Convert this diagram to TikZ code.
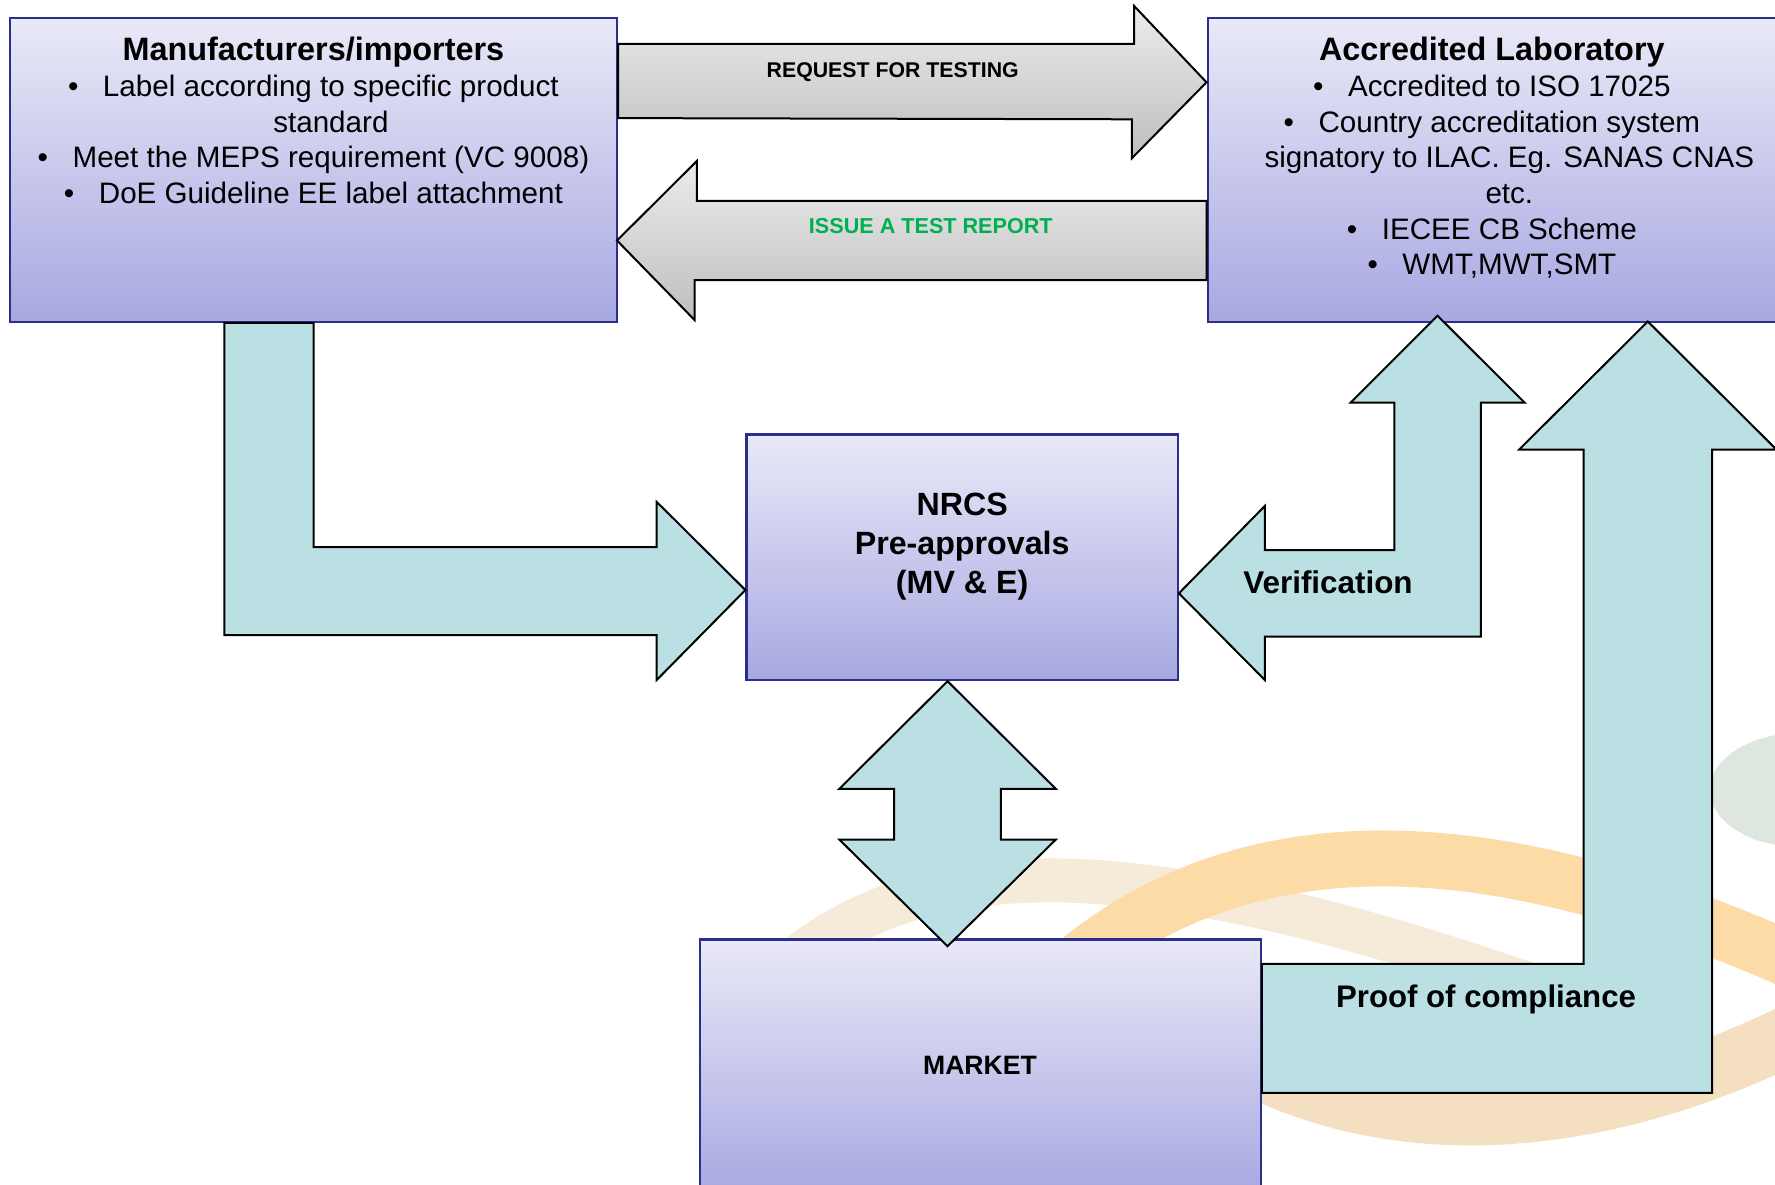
\documentclass[tikz,border=0pt]{standalone}
\usepackage{fontspec}
\setmainfont{Liberation Sans}
\usepackage{xcolor}
\usetikzlibrary{calc, positioning}

\definecolor{boxtop}{RGB}{233,233,248}
\definecolor{boxbot}{RGB}{168,168,226}
\definecolor{boxline}{RGB}{44,46,140}
\definecolor{tealfill}{RGB}{187,224,227}
\definecolor{graytop}{RGB}{236,236,236}
\definecolor{graybot}{RGB}{190,190,190}
\definecolor{reportgreen}{RGB}{0,176,80}
\definecolor{swooshA}{RGB}{253,219,166}
\definecolor{swooshB}{RGB}{246,234,216}
\definecolor{swooshC}{RGB}{244,224,193}
\definecolor{dotgreen}{RGB}{222,230,224}

\newcommand{\bul}{\makebox[35pt][l]{\textbullet}}
\newcommand{\cont}{\hspace*{35pt}}
\newcommand{\head}[1]{{\fontsize{32.4}{35.7}\selectfont\bfseries #1}}

\begin{document}
\begin{tikzpicture}[x=1pt, y=-1pt,
      box/.style = {draw=boxline, line width=2.4pt, top color=boxtop,
                    bottom color=boxbot, inner sep=0pt},
      TA/.style = {draw=black, line width=2pt, fill=tealfill},
      GA/.style = {draw=black, line width=2pt, top color=graytop, bottom color=graybot},
      boxtext/.style = {align=center, inner sep=0pt,
                        font=\fontsize{29.6}{35.7}\selectfont},
      tag/.style = {anchor=base, inner sep=0pt, font=\bfseries} ]

\useasboundingbox (0,0) rectangle (1775,1185);
\clip (0,0) rectangle (1775,1185);

% background swoosh
\draw[swooshB, line width=44pt] (800,955) .. controls (940,850) and (1150,845) .. (1600,1010);
\draw[swooshC, line width=60pt] (1240,1060) .. controls (1400,1145) and (1600,1130) .. (1800,1030);
\draw[swooshA, line width=56pt] (1080,960) .. controls (1230,840) and (1450,810) .. (1790,960);
\fill[dotgreen] (1800,790) ellipse [x radius=90, y radius=57];

% boxes
\node[box, minimum width=607.2pt, minimum height=303.4pt] (manu) at (313.4,170) {};
\node[box, minimum width=568.3pt, minimum height=303.4pt] (lab) at (1491.85,170) {};
\node[box, minimum width=431.1pt, minimum height=245.7pt] (nrcs) at (962.15,557.15) {};
\node[box, minimum width=560.7pt, minimum height=255.7pt] (market) at (980.35,1067.15) {};

\node[boxtext, below=18.5pt of manu.north] (manutxt)
{
  \strut\head{Manufacturers/importers}\\
  \bul Label according to specific product\\
  \cont standard\\
  \bul Meet the MEPS requirement (VC 9008)\\
  \bul DoE Guideline EE label attachment
};
\node[boxtext, below=18.5pt of lab.north] (labtxt)
{
  \strut\head{Accredited Laboratory}\\
  \bul Accredited to ISO 17025\\
  \bul Country accreditation system\\
  \cont signatory to ILAC. Eg. SANAS CNAS\\
  \cont etc.\\
  \bul IECEE CB Scheme\\
  \bul WMT,MWT,SMT
};
\node[boxtext, font=\fontsize{32.2}{39.3}\selectfont\bfseries,
      below=54.3pt of nrcs.north] (nrcstxt) {\strut NRCS\\ Pre-approvals\\ (MV \& E)};

% block arrows
\path[GA] ($(manu.north east)+(0,26.7)$) -- ++(516,0) -- ++(0,-37.7)
      -- ($(lab.west)+(0,-87.7)$) -- ++(-74.7,76) -- ++(0,-39)
      -- ($(manu.north east)+(0,101)$) -- cycle;
\path[GA] ($(manu.east)+(-1.2,70.5)$) -- ++(79.9,-79.5) -- ++(0,40)
      -- ($(lab.west)+(0,31)$) -- ++(0,79) -- ++(-512,0) -- ++(0,40) -- cycle;
\path[TA] ($(manu.south west)+(215.7,0)$) -- ++(89.3,0) -- ++(0,224.3)
      -- ++(343.1,0) -- ++(0,-45.3) -- ($(nrcs.west)+(0,32.85)$)
      -- ++(-88.7,90) -- ++(0,-45) -- ++(-432.4,0) -- cycle;
\path[TA] ($(nrcs.east)+(0,36.15)$) -- ++(85.9,-87.3) -- ++(0,44) -- ++(129.5,0)
      -- ++(0,-147.3) -- ++(-43.8,0) -- ++(87,-87) -- ++(87.2,87) -- ++(-43.9,0)
      -- ++(0,234) -- ++(-216,0) -- ++(0,43.3) -- cycle;
\path[TA] ($(nrcs.south)+(-14.6,0)$) -- ++(108.3,107.7) -- ++(-54.9,0) -- ++(0,50.6)
      -- ++(54.9,0) -- ++(-108.3,106.7) -- ++(-108.3,-106.7) -- ++(54.9,0)
      -- ++(0,-50.6) -- ++(-54.9,0) -- cycle;
\path[TA] ($(market.north east)+(0,25.7)$) -- ++(321.7,0) -- ++(0,-514.3)
      -- ++(-64.4,0) -- ++(128.6,-128) -- ++(128.6,128) -- ++(-64.4,0)
      -- ++(0,643.3) -- ++(-450.1,0) -- cycle;

% texts on the arrows
\node[tag, font=\fontsize{21.3}{25}\selectfont\bfseries] (req) at (892.7,77.5) {REQUEST FOR TESTING};
\node[tag, font=\fontsize{21.6}{25}\selectfont\bfseries, text=reportgreen] (rep) at (930.8,233.2) {ISSUE A TEST REPORT};
\node[tag, font=\fontsize{31.4}{36}\selectfont\bfseries] (verif) at (1328,593.2) {Verification};
\node[tag, font=\fontsize{31.2}{36}\selectfont\bfseries] (proof) at (1486,1007.5) {Proof of compliance};
\node[tag, font=\fontsize{26.6}{30}\selectfont\bfseries] (mkt) at (980,1074.8) {MARKET};
\end{tikzpicture}
\end{document}
